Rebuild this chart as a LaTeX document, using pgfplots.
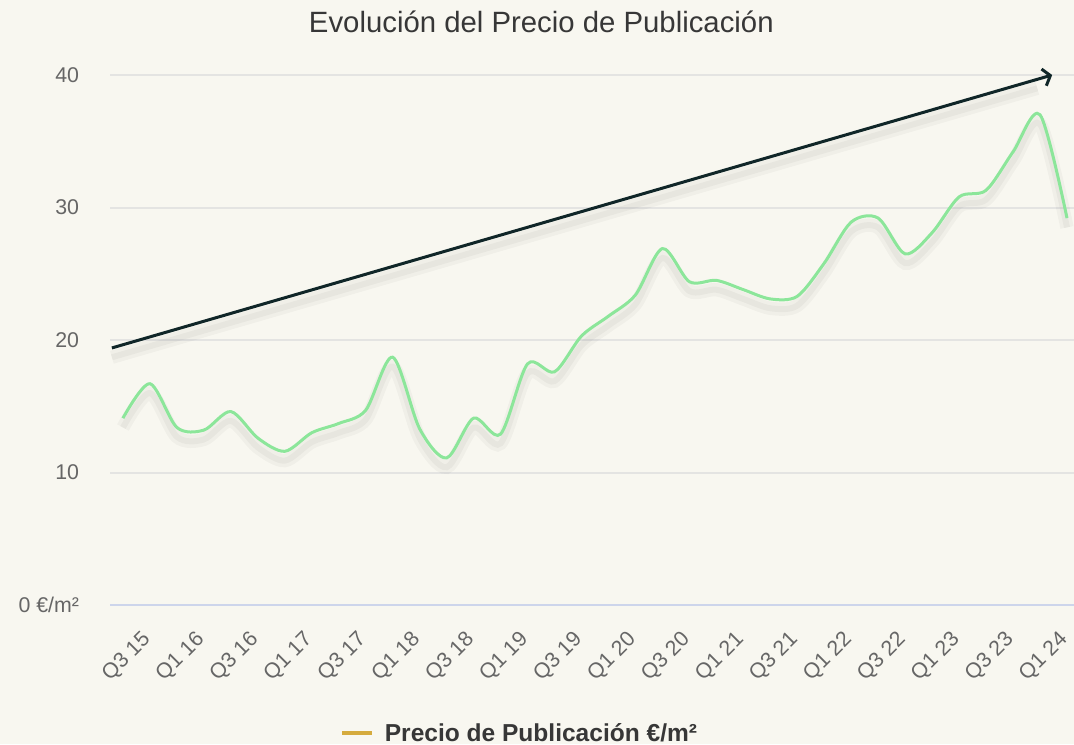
\documentclass[border=0pt]{standalone}
\usepackage{fontspec}
\setmainfont{Liberation Sans}
\usepackage{pgfplots}
\pgfplotsset{compat=1.18}
\usetikzlibrary{arrows.meta}
\definecolor{bgc}{RGB}{248,247,240}
\definecolor{gridc}{RGB}{228,228,226}
\definecolor{basec}{RGB}{205,213,235}
\definecolor{greenc}{RGB}{140,230,154}
\definecolor{arrowc}{RGB}{16,38,40}
\definecolor{goldc}{RGB}{213,171,62}
\definecolor{tickc}{RGB}{102,102,102}
\definecolor{titlec}{RGB}{55,55,55}
\pgfplotstableread{
x y
0 14.1
1 16.7
2 13.4
3 13.2
4 14.6
5 12.6
6 11.6
7 13.0
8 13.7
9 14.7
10 18.7
11 13.3
12 11.1
13 14.1
14 12.9
15 18.2
16 17.6
17 20.3
18 21.8
19 23.4
20 26.9
21 24.4
22 24.5
23 23.8
24 23.1
25 23.3
26 25.8
27 28.9
28 29.2
29 26.5
30 28.1
31 30.8
32 31.3
33 34.2
34 37.0
35 29.2
}\pricedata
\begin{document}
\begin{tikzpicture}
\fill[bgc] (0,0) rectangle (805.5pt,558pt);
\node[anchor=base, text=titlec, font=\fontsize{22}{25}\selectfont] at (406pt,533.25pt) {Evolución del Precio de Publicación};
\begin{axis}[
  at={(82.5pt,104.25pt)}, anchor=south west,
  scale only axis, width=723pt, height=397.5pt,
  xmin=-0.48, xmax=35.26, ymin=0, ymax=40,
  clip=false,
  axis line style={draw=none},
  major tick length=0pt,
  tick style={draw=none},
  ytick={10,20,30,40},
  yticklabels={10,20,30,40},
  extra y ticks={0},
  extra y tick labels={0 €/m²},
  extra y tick style={grid style={color=basec, line width=1.5pt}},
  ymajorgrids,
  grid style={color=gridc, line width=1.5pt},
  yticklabel style={anchor=east, inner sep=0pt, text=tickc, font=\fontsize{16}{18}\selectfont},
  yticklabel shift=23pt,
  xtick={1,3,...,35},
  xticklabels={Q3 15,Q1 16,Q3 16,Q1 17,Q3 17,Q1 18,Q3 18,Q1 19,Q3 19,Q1 20,Q3 20,Q1 21,Q3 21,Q1 22,Q3 22,Q1 23,Q3 23,Q1 24},
  xticklabel style={xshift=-7pt, rotate=45, anchor=north east, inner sep=0pt, text=tickc, font=\fontsize{16}{18}\selectfont},
  xticklabel shift=18.5pt,
  legend style={at={(0.4253,-0.2415)}, anchor=center, draw=none, fill=none,
    font=\bfseries\fontsize{18.4}{20}\selectfont, text=titlec},
  legend image code/.code={\draw[#1] (0pt,0pt) -- (22.5pt,0pt);},
]
% shadows
\addplot[forget plot, smooth, tension=0.5, black, opacity=0.03, line width=10pt, yshift=-7pt] table {\pricedata};
\addplot[forget plot, smooth, tension=0.5, black, opacity=0.035, line width=4.5pt, yshift=-7pt] table {\pricedata};
\addplot[forget plot, black, opacity=0.03, line width=10pt, yshift=-7pt] coordinates {(-0.41,19.4) (33.9,39.7)};
\addplot[forget plot, black, opacity=0.035, line width=4.5pt, yshift=-7pt] coordinates {(-0.41,19.4) (33.9,39.7)};
% data line
\addplot[forget plot, smooth, tension=0.5, color=greenc, line width=2.25pt] table {\pricedata};
% trend arrow
\addplot[forget plot, color=arrowc, line width=2.25pt, -{Straight Barb[length=5pt,width=13pt,line width=2.25pt]}] coordinates {(-0.41,19.4) (34.45,40)};
\addlegendimage{color=goldc, line width=3pt}
\addlegendentry{\hspace*{6pt}Precio de Publicación €/m²}
\end{axis}
\pgfresetboundingbox
\useasboundingbox (0,0) rectangle (805.5pt,558pt);
\end{tikzpicture}
\end{document}
